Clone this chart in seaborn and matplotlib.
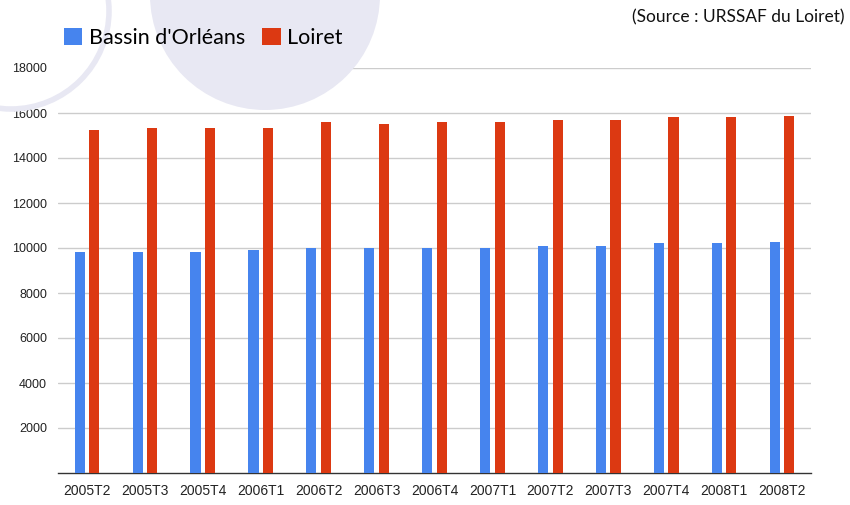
import pandas as pd
import seaborn as sns
import matplotlib.pyplot as plt
from matplotlib.patches import Ellipse, Rectangle

W, H = 850, 505

trimestres = ["2005T2", "2005T3", "2005T4", "2006T1", "2006T2", "2006T3", "2006T4",
              "2007T1", "2007T2", "2007T3", "2007T4", "2008T1", "2008T2"]
bassin = [9800, 9800, 9800, 9900, 10000, 10000, 10000, 10000, 10100, 10100, 10200, 10200, 10250]
loiret = [15250, 15330, 15330, 15330, 15600, 15500, 15600, 15600, 15700, 15700, 15800, 15800, 15850]
series = ["Bassin d'Orléans", "Loiret"]
colors = ["#4684EE", "#DC3912"]
yticks = [2000, 4000, 6000, 8000, 10000, 12000, 14000, 16000, 18000]

df = pd.DataFrame({
    "trimestre": trimestres * 2,
    "valeur": bassin + loiret,
    "serie": [series[0]] * len(trimestres) + [series[1]] * len(trimestres),
})

sns.set_style("white")
plt.rcParams["font.family"] = ["Liberation Sans", "DejaVu Sans"]

fig = plt.figure(figsize=(W / 100, H / 100), dpi=100)
ax = fig.add_axes([58 / W, 1 - 473 / H, (811 - 58) / W, 405 / H])

sns.barplot(data=df, x="trimestre", y="valeur", hue="serie", palette=colors,
            width=0.5, gap=0.3, saturation=1, linewidth=0, ax=ax, zorder=3)

ax.set_xlim(-0.5, len(trimestres) - 0.5)
ax.set_ylim(0, 18000)
ax.set_yticks(yticks)
ax.set_yticklabels([str(v) for v in yticks], fontsize=9, color="#222222")
ax.tick_params(axis="y", length=0, pad=8)
ax.yaxis.grid(True, color="#CCCCCC", linewidth=1, zorder=0)
ax.set_axisbelow(True)

ax.set_xticks(range(len(trimestres)))
ax.set_xticklabels(trimestres, fontsize=10, color="#222222")
ax.set_xticks([i - 0.5 for i in range(len(trimestres) + 1)], minor=True)
ax.tick_params(axis="x", which="major", length=0, pad=8)
ax.tick_params(axis="x", which="minor", length=3, width=1, color="#333333", direction="out")
ax.set_xlabel("")
ax.set_ylabel("")
for s in ["top", "left", "right"]:
    ax.spines[s].set_visible(False)
ax.spines["bottom"].set_color("#333333")
ax.spines["bottom"].set_linewidth(1)

handles, labels = ax.get_legend_handles_labels()
ax.legend_.remove()
leg = fig.legend(handles, labels, loc="center left", bbox_to_anchor=(64 / W, 1 - 38 / H),
                 ncol=2, frameon=False, prop={"family": ["Lato", "DejaVu Sans"], "size": 15.5},
                 handlelength=0.85, handleheight=0.85, handletextpad=0.3,
                 columnspacing=0.8, borderaxespad=0, borderpad=0)
for t in leg.get_texts():
    t.set_color("#000000")

# white legend area hiding the top gridline on the left
fig.add_artist(Rectangle((57 / W, 1 - 75 / H), 125 / W, 14 / H, transform=fig.transFigure,
                         facecolor="white", edgecolor="none", zorder=5))

# decorative circles of the slide background
fig.add_artist(Ellipse((265 / W, 1 + 5 / H), 230 / W, 230 / H, transform=fig.transFigure,
                       facecolor="#E8E8F3", edgecolor="none", zorder=6))
fig.add_artist(Ellipse((11 / W, 1 - 11 / H), 196 / W, 196 / H, transform=fig.transFigure,
                       facecolor="none", edgecolor="#E8E8F3", linewidth=4, zorder=6))
leg.set_zorder(7)

fig.text(845 / W, 1 - 17 / H, "(Source : URSSAF du Loiret)", ha="right", va="center",
         fontsize=12.5, family=["Lato", "DejaVu Sans"], color="#111111", zorder=7)

fig.savefig("out.png", dpi=100)
